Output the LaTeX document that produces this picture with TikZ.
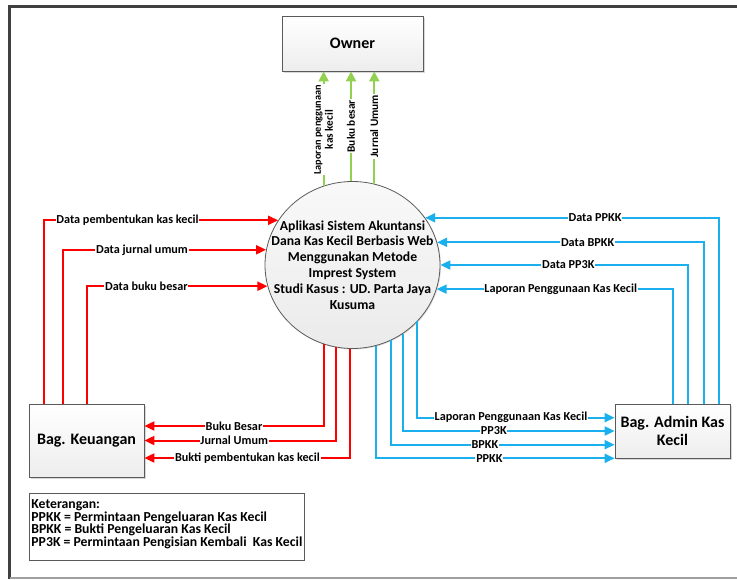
\documentclass[tikz,border=0pt]{standalone}
\usepackage{fontspec}
\setmainfont{Carlito}
\usetikzlibrary{positioning,arrows.meta,shapes.geometric,shadows}
\definecolor{flowred}{HTML}{FF0000}
\definecolor{flowblue}{HTML}{1AB0EE}
\definecolor{flowgreen}{HTML}{92D050}
\definecolor{framegray}{HTML}{404040}
\definecolor{edgegray}{HTML}{5A5A5A}

\begin{document}
\begin{tikzpicture}[x=1pt,y=-1pt,font=\bfseries,
     ent/.style={rectangle,draw=edgegray,line width=.8pt,top color=white,bottom color=gray!14,
       drop shadow={shadow xshift=1.5pt,shadow yshift=-1.5pt,fill=gray!60},inner sep=0pt,
       align=center,font=\fontsize{16}{18}\selectfont\bfseries},
     proc/.style={ellipse,draw=edgegray,line width=.8pt,top color=gray!5,bottom color=gray!16,
       drop shadow={shadow xshift=1pt,shadow yshift=-1pt,fill=gray!50},inner sep=0pt,
       minimum width=175,minimum height=167},
     proctxt/.style={align=center,inner sep=0pt,font=\fontsize{13.7}{15.9}\selectfont\bfseries},
     legbox/.style={rectangle,draw=edgegray,line width=.6pt,fill=white,
       drop shadow={shadow xshift=1pt,shadow yshift=-1pt,fill=gray!50},minimum width=275,minimum height=67},
     legtxt/.style={align=left,inner sep=2.5pt,font=\fontsize{13.75}{12.8}\selectfont\bfseries},
     lbl/.style={fill=white,inner sep=.8pt,font=\fontsize{12.2}{13}\selectfont\bfseries},
     lblg/.style={fill=white,inner sep=.8pt,rotate=90,align=center,font=\fontsize{11.3}{12}\selectfont\bfseries},
     rd/.style={draw=flowred,line width=2pt,-{Triangle[length=10pt,width=9pt]}},
     bl/.style={draw=flowblue,line width=2pt,-{Triangle[length=10pt,width=9pt]}},
     gr/.style={draw=flowgreen,line width=2pt,-{Triangle[length=10pt,width=10pt]}},
     framebar/.style={draw=framegray,line width=2.6pt},
     footbar/.style={draw=gray!75,line width=1.6pt}]
  \useasboundingbox (0,0) rectangle (737,579);
  \draw[framebar] (737,6.3) -- (9.7,6.3) -- (9.7,579);
  \draw[footbar] (9.7,578.2) -- (737,578.2);

  \node[ent,minimum width=141,minimum height=55] (owner) at (352.5,43.5) {Owner};
  \node[proc] (proc) at (352.5,265) {};
  \node[proctxt] (proctext) at (proc.center) {Aplikasi Sistem Akuntansi\\Dana Kas Kecil Berbasis Web\\Menggunakan Metode\\Imprest System\\Studi Kasus : UD. Parta Jaya\\Kusuma};
  \node[ent,minimum width=115,minimum height=73] (keu) at (86.5,440.5) {Bag. Keuangan};
  \node[ent,minimum width=115,minimum height=54] (adm) at (672.5,431) {Bag. Admin Kas\\Kecil};
  \node[legbox] (ket) at (166.5,526.5) {};
  \node[legtxt,anchor=north west] (kettxt) at ([yshift=-4pt]ket.north west) {Keterangan:\\PPKK = Permintaan Pengeluaran Kas Kecil\\BPKK = Bukti Pengeluaran Kas Kecil\\PP3K = Permintaan Pengisian Kembali \ Kas Kecil};

  % ke owner
  \foreach \ang/\pp/\txt in {110.4/.49/{\fontsize{10.3}{11.6}\selectfont Laporan penggunaan\\kas kecil},91.7/.5/Buku besar,75.1/.51/Jurnal Umum}
    \draw[gr] (proc.\ang) -- node[lblg,pos=\pp]{\txt} (proc.\ang |- owner.south);

  % keuangan <-> proses
  \foreach \dx/\ang/\pp/\txt in {-42.2/149.4/.678/Data pembentukan kas kecil,-23.8/170.1/.695/Data jurnal umum,0.2/194.6/.665/Data buku besar}
    \draw[rd] ([xshift=\dx]keu.north) |- node[lbl,pos=\pp]{\txt} (proc.\ang);
  \foreach \ang/\dy/\pp/\txt in {250.1/14.5/.75/Buku Besar,259.1/0/.766/Jurnal Umum,268.8/-17.5/.749/Bukti pembentukan kas kecil}
    \draw[rd] (proc.\ang) |- node[lbl,pos=\pp]{\txt} ([yshift=\dy]keu.east);

  % admin <-> proses
  \foreach \dx/\ang/\pp/\txt in {46.5/33/.711/Data PPKK,31.5/15.9/.718/Data BPKK,15.8/0/.742/Data PP3K,0/344.7/.737/Laporan Penggunaan Kas Kecil}
    \draw[bl] ([xshift=\dx]adm.north) |- node[lbl,pos=\pp]{\txt} (proc.\ang);
  \foreach \ang/\dy/\pp/\txt in {319.2/13.3/.737/Laporan Penggunaan Kas Kecil,306.4/0/.715/PP3K,297/-13.7/.71/BPKK,286.8/-27.3/.738/PPKK}
    \draw[bl] (proc.\ang) |- node[lbl,pos=\pp]{\txt} ([yshift=\dy]adm.west);
\end{tikzpicture}
\end{document}
